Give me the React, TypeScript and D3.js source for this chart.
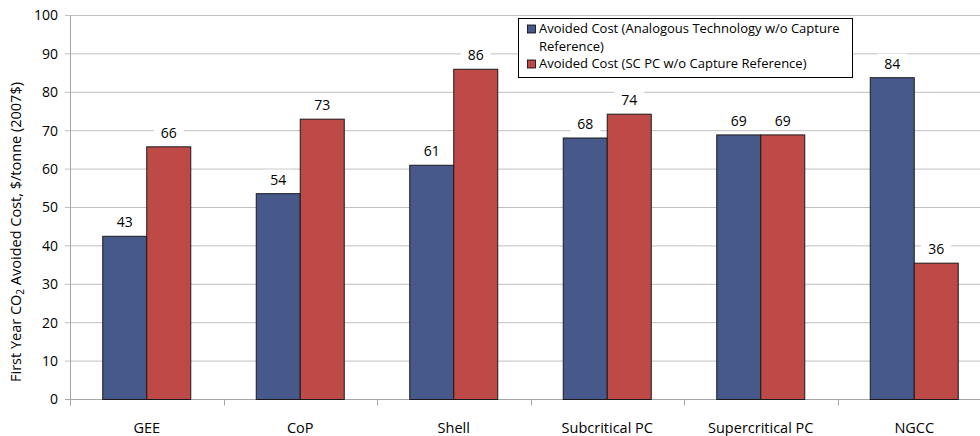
import { useEffect, useRef } from 'react';
import * as d3 from 'd3';

const categories = ['GEE', 'CoP', 'Shell', 'Subcritical PC', 'Supercritical PC', 'NGCC'];
const seriesNames = [
  'Avoided Cost (Analogous Technology w/o Capture Reference)',
  'Avoided Cost (SC PC w/o Capture Reference)',
];
const analogousValues = [42.5, 53.6, 61, 68.1, 68.9, 83.8];
const scpcValues = [65.8, 73, 86, 74.3, 68.9, 35.5];
const yTicks = [0, 10, 20, 30, 40, 50, 60, 70, 80, 90, 100];

const colors = ['#47598B', '#BE4A47'];
const FONT = '"Open Sans", sans-serif';

const App = () => {
  const svgRef = useRef<SVGSVGElement>(null);

  useEffect(() => {
    if (!svgRef.current) return;
    const svg = d3.select(svgRef.current);
    svg.selectAll('*').remove();

    const width = 980;
    const height = 436;
    const left = 70;
    const step = 153.5;
    const top = 15.5;
    const bottom = 399.5;

    svg.attr('width', width).attr('height', height);

    const x = d3.scaleBand<string>()
      .domain(categories)
      .range([left, left + step * categories.length])
      .padding(0);

    const groupWidth = 88;
    const xSub = d3.scaleBand<number>()
      .domain([0, 1])
      .range([0, groupWidth])
      .padding(0);
    const offset = (x.bandwidth() - groupWidth) / 2;

    const y = d3.scaleLinear().domain([0, 100]).range([bottom, top]);

    // gridlines
    svg.append('g')
      .selectAll('line')
      .data(yTicks)
      .enter()
      .append('line')
      .attr('x1', left - 5)
      .attr('x2', width)
      .attr('y1', d => y(d))
      .attr('y2', d => y(d))
      .attr('stroke', d => (d === 0 ? '#A6A6A6' : '#BFBFBF'))
      .attr('stroke-width', 1);

    // y axis line
    svg.append('line')
      .attr('x1', left + 0.5)
      .attr('x2', left + 0.5)
      .attr('y1', top)
      .attr('y2', bottom + 6)
      .attr('stroke', '#A6A6A6');

    // x category ticks
    svg.append('g')
      .selectAll('line')
      .data(categories)
      .enter()
      .append('line')
      .attr('x1', d => Math.round(x(d)!) + 0.5)
      .attr('x2', d => Math.round(x(d)!) + 0.5)
      .attr('y1', bottom)
      .attr('y2', bottom + 6)
      .attr('stroke', '#A6A6A6');

    // y tick labels
    svg.append('g')
      .selectAll('text')
      .data(yTicks)
      .enter()
      .append('text')
      .attr('x', left - 12)
      .attr('y', d => y(d))
      .attr('dy', '0.35em')
      .attr('text-anchor', 'end')
      .attr('font-family', FONT)
      .attr('font-size', 14)
      .attr('fill', '#000')
      .text(d => d);

    // category labels
    svg.append('g')
      .selectAll('text')
      .data(categories)
      .enter()
      .append('text')
      .attr('x', d => x(d)! + x.bandwidth() / 2)
      .attr('y', 433)
      .attr('text-anchor', 'middle')
      .attr('font-family', FONT)
      .attr('font-size', 14.5)
      .attr('fill', '#000')
      .text(d => d);

    // y axis title
    const yt = svg.append('text')
      .attr('transform', 'translate(21, 232) rotate(-90)')
      .attr('text-anchor', 'middle')
      .attr('font-family', FONT)
      .attr('font-size', 14.5)
      .attr('fill', '#000');
    yt.append('tspan').text('First Year CO');
    yt.append('tspan').attr('font-size', 10).attr('dy', 3).text('2');
    yt.append('tspan').attr('dy', -3).text(' Avoided Cost, $/tonne (2007$)');

    const rows = categories.map((c, i) => ({ c, vals: [analogousValues[i], scpcValues[i]] }));

    // bars
    const groups = svg.append('g')
      .selectAll('g')
      .data(rows)
      .enter()
      .append('g')
      .attr('transform', d => `translate(${x(d.c)! + offset}, 0)`);

    groups.selectAll('rect')
      .data(d => d.vals.map((v, k) => ({ v, k })))
      .enter()
      .append('rect')
      .attr('x', d => xSub(d.k)!)
      .attr('y', d => y(d.v))
      .attr('width', xSub.bandwidth())
      .attr('height', d => bottom - y(d.v))
      .attr('fill', d => colors[d.k])
      .attr('stroke', '#1a1a1a')
      .attr('stroke-width', 1);

    // value labels with white background
    const labels = groups.selectAll('g.lab')
      .data(d => d.vals.map((v, k) => ({ v, k })))
      .enter()
      .append('g')
      .attr('class', 'lab')
      .attr('transform', d => `translate(${xSub(d.k)! + xSub.bandwidth() / 2}, ${y(d.v) - 9})`);

    labels.append('rect')
      .attr('x', -15)
      .attr('y', -15)
      .attr('width', 30)
      .attr('height', 19)
      .attr('fill', '#fff');

    labels.append('text')
      .attr('text-anchor', 'middle')
      .attr('font-family', FONT)
      .attr('font-size', 14)
      .attr('fill', '#000')
      .text(d => Math.round(d.v));

    // legend
    const legend = svg.append('g');
    legend.append('rect')
      .attr('x', 518.5)
      .attr('y', 18.5)
      .attr('width', 334)
      .attr('height', 59)
      .attr('fill', '#fff')
      .attr('stroke', '#000');

    const legendLines = [
      { marker: 0, text: 'Avoided Cost (Analogous Technology w/o Capture', y: 33 },
      { marker: -1, text: 'Reference)', y: 51 },
      { marker: 1, text: 'Avoided Cost (SC PC w/o Capture Reference)', y: 68 },
    ];
    legend.selectAll('rect.m')
      .data(legendLines.filter(l => l.marker >= 0))
      .enter()
      .append('rect')
      .attr('class', 'm')
      .attr('x', 527.5)
      .attr('y', d => d.y - 8)
      .attr('width', 8)
      .attr('height', 8)
      .attr('fill', d => colors[d.marker])
      .attr('stroke', '#000')
      .attr('stroke-width', 0.8);
    legend.selectAll('text')
      .data(legendLines)
      .enter()
      .append('text')
      .attr('x', 539)
      .attr('y', d => d.y)
      .attr('font-family', FONT)
      .attr('font-size', 13)
      .attr('fill', '#000')
      .text(d => d.text);

    legend.append('title').text(seriesNames.join(' / '));
  }, []);

  return (
    <svg ref={svgRef} style={{ position: 'absolute', left: 0, top: 0, display: 'block' }}></svg>
  );
};

export default App;
